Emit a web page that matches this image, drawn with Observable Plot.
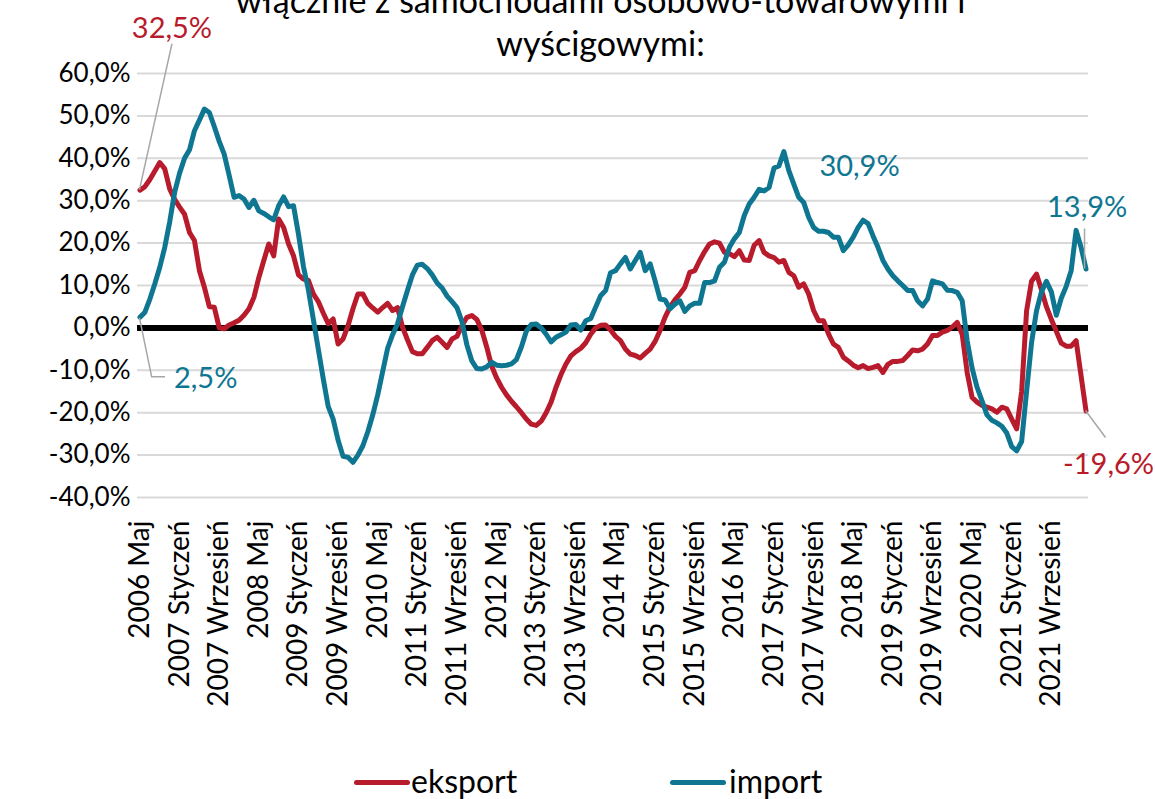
<!DOCTYPE html>
<html><head><meta charset="utf-8">
<script src="https://cdn.jsdelivr.net/npm/d3@7"></script>
<script src="https://cdn.jsdelivr.net/npm/@observablehq/plot@0.6"></script>
<style>
body{margin:0;background:#fff;font-family:Lato,sans-serif;}
#wrap{position:relative;width:1155px;height:799px;overflow:hidden;background:#fff;}
#chart{position:absolute;left:0;top:0;}
#title{position:absolute;left:23px;width:1155px;text-align:center;top:-22px;font-size:34px;line-height:43px;color:#000;}
.lg-line{position:absolute;height:5px;border-radius:3px;}
.lg-text{position:absolute;font-size:32px;line-height:32px;color:#000;}
</style></head>
<body><div id="wrap"><div id="chart"></div>
<div id="title">włącznie z samochodami osobowo-towarowymi i<br>wyścigowymi:</div>
<div class="lg-line" style="left:354px;top:780px;width:56px;background:#b81b2c"></div>
<div class="lg-text" style="left:411px;top:765px">eksport</div>
<div class="lg-line" style="left:670px;top:780px;width:56px;background:#0f7692"></div>
<div class="lg-text" style="left:729px;top:765px">import</div>
</div>
<script>
const seriesNames = ["eksport", "import"];
const seriesColors = ["#b81b2c", "#0f7692"];
const tickLabels = ["2006 Maj","2007 Styczeń","2007 Wrzesień","2008 Maj","2009 Styczeń","2009 Wrzesień","2010 Maj","2011 Styczeń","2011 Wrzesień","2012 Maj","2013 Styczeń","2013 Wrzesień","2014 Maj","2015 Styczeń","2015 Wrzesień","2016 Maj","2017 Styczeń","2017 Wrzesień","2018 Maj","2019 Styczeń","2019 Wrzesień","2020 Maj","2021 Styczeń","2021 Wrzesień"];
const yTicks = [-40,-30,-20,-10,0,10,20,30,40,50,60];
const eksport = [
32.5, 33.3, 35.0, 37.0, 39.0, 37.5, 32.8, 30.3, 28.5, 26.8, 22.5, 20.6,
13.5, 9.6, 5.0, 4.9, 0.0, -0.2, 0.7, 1.2, 1.8, 3.0, 4.5, 7.2,
11.9, 15.9, 19.8, 17.0, 25.7, 23.7, 19.8, 17.0, 12.5, 11.5, 11.2, 8.0,
6.2, 3.5, 1.0, 2.1, -3.8, -2.6, 0.5, 4.5, 8.0, 8.0, 5.8, 4.7,
3.7, 4.8, 5.8, 4.1, 4.8, 0.2, -2.8, -5.6, -6.1, -6.1, -4.6, -3.0,
-2.2, -3.4, -4.6, -2.6, -2.0, 0.5, 2.5, 2.9, 2.0, -0.5, -4.5, -9.0,
-11.8, -14.0, -15.8, -17.3, -18.6, -20.0, -21.5, -22.7, -23.0, -22.0, -20.0, -17.5,
-14.0, -11.0, -8.5, -6.6, -5.6, -4.8, -3.5, -1.5, 0.0, 0.6, 0.7, -0.5,
-2.0, -3.0, -5.0, -6.2, -6.5, -7.1, -6.0, -5.0, -3.2, -0.6, 2.5, 4.9,
6.6, 8.0, 9.6, 13.1, 13.5, 15.9, 18.0, 19.8, 20.3, 20.0, 17.8, 17.5,
16.8, 18.2, 16.0, 15.9, 19.5, 20.6, 17.8, 17.0, 16.6, 15.5, 15.9, 13.1,
12.3, 9.6, 10.4, 8.0, 4.1, 1.7, 1.7, -1.4, -3.8, -4.6, -6.9, -7.8,
-8.8, -9.4, -8.9, -9.6, -9.3, -8.9, -10.5, -8.6, -7.9, -7.9, -7.7, -6.5,
-5.2, -5.4, -5.0, -3.8, -1.8, -1.8, -1.0, -0.6, 0.2, 1.3, -1.5, -10.5,
-16.4, -17.5, -18.3, -18.7, -19.1, -19.9, -18.7, -19.1, -21.5, -23.8, -15.0, 4.0,
11.0, 12.7, 9.0, 5.0, 2.0, -0.8, -3.6, -4.3, -4.3, -3.0, -11.3, -19.6
];
const importVals = [
2.5, 3.7, 6.8, 10.4, 14.3, 19.0, 25.0, 32.0, 36.5, 40.0, 42.0, 46.5,
49.0, 51.6, 50.8, 47.5, 44.0, 41.0, 36.0, 30.8, 31.2, 30.4, 28.4, 30.1,
27.6, 27.0, 26.2, 25.5, 28.8, 30.9, 28.6, 28.8, 22.1, 14.5, 9.0, 2.0,
-5.0, -12.0, -18.5, -21.5, -26.5, -30.3, -30.5, -31.7, -30.0, -27.8, -24.5, -20.5,
-15.8, -10.3, -4.8, -1.6, 1.0, 5.0, 8.8, 12.5, 14.8, 15.0, 14.0, 12.5,
10.6, 9.4, 7.5, 6.2, 4.8, 1.5, -4.0, -7.8, -9.6, -9.7, -9.2, -8.1,
-8.8, -8.9, -8.8, -8.5, -7.5, -4.5, -0.8, 0.8, 0.9, 0.0, -1.5, -3.3,
-2.2, -1.6, -1.0, 0.7, 0.8, -0.5, 1.7, 2.2, 4.9, 7.6, 8.8, 13.0,
13.5, 15.1, 16.6, 13.9, 15.9, 17.8, 13.5, 15.1, 11.1, 6.8, 6.6, 4.5,
5.6, 6.4, 3.9, 5.2, 5.8, 5.8, 10.7, 10.7, 11.1, 14.3, 15.5, 19.0,
21.0, 22.5, 26.5, 29.2, 30.8, 32.7, 32.3, 33.1, 37.7, 38.2, 41.6, 37.1,
33.9, 30.8, 29.6, 26.1, 23.7, 22.8, 22.8, 22.5, 21.4, 21.4, 18.2, 19.6,
21.4, 23.7, 25.4, 24.6, 21.7, 19.0, 15.9, 13.9, 12.3, 11.1, 10.0, 8.8,
8.8, 6.4, 5.2, 6.8, 11.1, 10.7, 10.4, 8.9, 8.8, 8.4, 6.4, -3.0,
-9.5, -14.0, -17.2, -20.5, -21.8, -22.4, -23.2, -24.8, -28.0, -29.0, -26.8, -15.0,
-3.5, 4.0, 8.5, 11.0, 8.5, 3.0, 7.0, 9.8, 13.5, 23.0, 19.0, 13.9
];
// annotation labels (text, series, month index)
const labelTexts = ["32,5%", "2,5%", "30,9%", "13,9%", "-19,6%"];
const labelSeries = [0, 1, 1, 1, 0];
const labelIndex = [0, 0, 130, 191, 191];

const red = seriesColors[0], teal = seriesColors[1];
const fmtPct = d => d.toFixed(1).replace(".", ",") + "%";

const plot = Plot.plot({
  width: 1155, height: 799,
  marginLeft: 137, marginRight: 67, marginTop: 73, marginBottom: 302,
  style: {fontFamily: "Lato, sans-serif", fontSize: "26px", color: "#000", background: "transparent", overflow: "visible"},
  x: {type: "linear", domain: [-0.5, 191.5]},
  y: {domain: [-40, 60]},
  marks: [
    Plot.gridY(yTicks, {stroke: "#d9d9d9", strokeOpacity: 1, strokeWidth: 2}),
    Plot.ruleY([0], {stroke: "#000", strokeWidth: 6}),
    Plot.lineY(eksport, {x: (d, i) => i, y: d => d, stroke: red, strokeWidth: 5, strokeLinejoin: "round"}),
    Plot.lineY(importVals, {x: (d, i) => i, y: d => d, stroke: teal, strokeWidth: 5, strokeLinejoin: "round"}),
    Plot.axisY(yTicks, {tickSize: 0, tickPadding: 7, tickFormat: fmtPct, fontSize: 26}),
    Plot.axisX(d3.range(0, 192, 8), {tickSize: 0, tickPadding: 23, tickRotate: -90, tickFormat: d => tickLabels[d / 8], fontSize: 28})
  ]
});
document.getElementById("chart").appendChild(plot);

const sx = plot.scale("x"), sy = plot.scale("y");
const seriesData = [eksport, importVals];
const svg = d3.select(plot);
const g = svg.append("g").attr("font-family", "Lato, sans-serif").attr("font-size", 29);
// offsets (pixels) for labels and leader lines, relative to the anchored data point
const labelStyle = [
  {dx: 32.5, dy: -152, anchor: "middle", leader: [[0, 0], [32.5, -146]]},
  {dx: 34.5, dy: 71, anchor: "start", leader: [[0, 1], [12.2, 60], [25.5, 60]]},
  {dx: 36, dy: 25, anchor: "start", leader: null},
  {dx: -38.5, dy: -51.6, anchor: "start", leader: [[-1, 0], [-1, -40]]},
  {dx: -22.5, dy: 63, anchor: "start", leader: [[0, 0], [20, 27]]}
];
labelTexts.forEach((t, k) => {
  const s = labelSeries[k], i = labelIndex[k];
  const px = sx.apply(i), py = sy.apply(seriesData[s][i]);
  const st = labelStyle[k];
  if (st.leader) {
    g.append("path")
      .attr("d", d3.line()(st.leader.map(([a, b]) => [px + a, py + b])))
      .attr("fill", "none").attr("stroke", "#a6a6a6").attr("stroke-width", 1.5);
  }
  g.append("text").attr("x", px + st.dx).attr("y", py + st.dy)
    .attr("text-anchor", st.anchor).attr("fill", seriesColors[s]).text(t);
});
</script>
</body></html>
